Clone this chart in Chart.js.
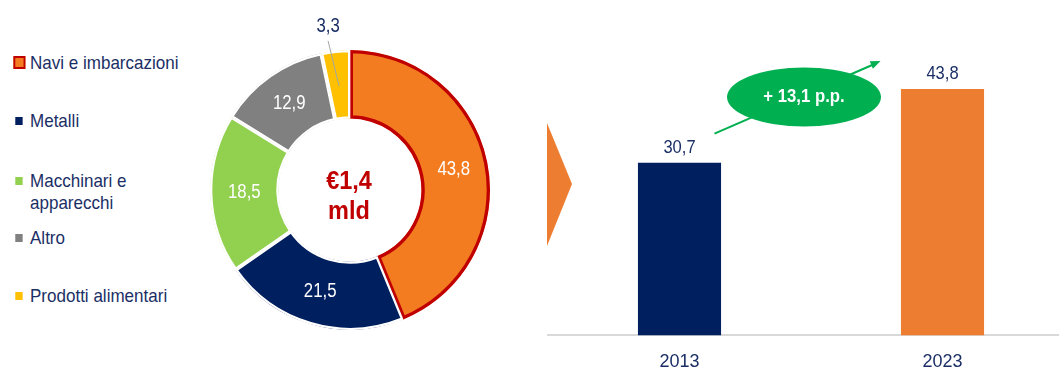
<!DOCTYPE html>
<html>
<head>
<meta charset="utf-8">
<script src="https://cdn.jsdelivr.net/npm/chart.js@4"></script>
<style>
  html, body { margin: 0; padding: 0; background: #fff; overflow: hidden; width: 1059px; height: 371px; }
  #legend { position: absolute; left: 0; top: 0; width: 210px; height: 371px; }
  .item { position: absolute; left: 30px; font: 18.5px 'Liberation Sans Narrow', 'Arial Narrow', Arial, sans-serif; color: #1b2f66; line-height: 22px; white-space: nowrap; transform: scaleX(0.92); transform-origin: 0 0; }
  .box { position: absolute; left: -16px; top: 7px; width: 8px; height: 8px; }
  #pie { position: absolute; left: 200px; top: 0; }
  #bars { position: absolute; left: 540px; top: 0; }
</style>
</head>
<body>
<div id="legend"></div>
<canvas id="pie" width="300" height="340"></canvas>
<canvas id="bars" width="540" height="389"></canvas>
<script>
const categories = ['Navi e imbarcazioni', 'Metalli', 'Macchinari e apparecchi', 'Altro', 'Prodotti alimentari'];
const shares = [43.8, 21.5, 18.5, 12.9, 3.3];
const sliceColors = ['#f47c20', '#001f5f', '#92d050', '#808080', '#ffc000'];
const centerText = ['€1,4', 'mld'];

const years = ['2013', '2023'];
const yearValues = [30.7, 43.8];
const yearColors = ['#001f5f', '#ed7d31'];
const changeText = '+ 13,1 p.p.';

const navy = '#1b2f66';
const narrow = "'Liberation Sans Narrow', 'Arial Narrow', Arial, sans-serif";
const fmt = v => v.toFixed(1).replace('.', ',');

// squeeze text a bit to look like the narrow face of the original
function squeezed(ctx, text, x, y, sx) {
    ctx.save();
    ctx.translate(x, y);
    ctx.scale(sx, 1);
    ctx.fillText(text, 0, 0);
    ctx.restore();
}

window.onload = () => {
    // legend
    const legend = document.getElementById('legend');
    const legendTops = [52, 110, 170, 227, 285];
    categories.forEach((c, i) => {
        const div = document.createElement('div');
        div.className = 'item';
        div.style.top = legendTops[i] + 'px';
        div.innerHTML = c === 'Macchinari e apparecchi' ? 'Macchinari e<br>apparecchi' : c;
        const box = document.createElement('span');
        box.className = 'box';
        box.style.background = sliceColors[i];
        if (i === 0) {
            box.style.left = '-18px';
            box.style.top = '4px';
            box.style.width = '9px';
            box.style.height = '9px';
            box.style.border = '2px solid #c00000';
        }
        div.appendChild(box);
        legend.appendChild(div);
    });

    const sliceLabels = {
        id: 'sliceLabels',
        afterDatasetsDraw(chart) {
            const ctx = chart.ctx;
            const arcs = chart.getDatasetMeta(0).data;
            ctx.save();
            ctx.font = '19.5px ' + narrow;
            ctx.textAlign = 'center';
            ctx.textBaseline = 'middle';
            arcs.forEach((arc, i) => {
                const p = arc.tooltipPosition();
                if (shares[i] < 5) {
                    ctx.strokeStyle = '#a6a6a6';
                    ctx.lineWidth = 1;
                    ctx.beginPath();
                    ctx.moveTo(p.x - 11, p.y - 44);
                    ctx.lineTo(p.x, p.y + 1);
                    ctx.stroke();
                    ctx.fillStyle = navy;
                    squeezed(ctx, fmt(shares[i]), p.x - 11, p.y - 58, 0.86);
                } else {
                    ctx.fillStyle = '#fff';
                    squeezed(ctx, fmt(shares[i]), p.x, p.y, 0.86);
                }
            });
            const cx = (chart.chartArea.left + chart.chartArea.right) / 2;
            const cy = (chart.chartArea.top + chart.chartArea.bottom) / 2;
            ctx.fillStyle = '#c00000';
            ctx.font = 'bold 25px ' + narrow;
            squeezed(ctx, centerText[0], cx - 1, cy - 8, 0.94);
            squeezed(ctx, centerText[1], cx - 1, cy + 22, 0.94);
            ctx.restore();
        }
    };

    new Chart(document.getElementById('pie').getContext('2d'), {
        type: 'doughnut',
        data: {
            labels: categories,
            datasets: [{
                data: shares,
                backgroundColor: sliceColors,
                borderColor: ['#c00000', '#fff', '#fff', '#fff', '#fff'],
                borderWidth: [3, 2, 2, 2, 2],
                borderAlign: 'inner'
            }]
        },
        options: {
            responsive: false,
            animation: false,
            cutout: '51%',
            layout: { padding: { left: 10, right: 10, top: 50, bottom: 10 } },
            plugins: { legend: { display: false }, tooltip: { enabled: false } }
        },
        plugins: [sliceLabels]
    });

    const barExtras = {
        id: 'barExtras',
        afterDatasetsDraw(chart) {
            const ctx = chart.ctx;
            const xs = chart.scales.x, ys = chart.scales.y;
            const area = chart.chartArea;
            ctx.save();
            // chevron
            ctx.fillStyle = '#ed7d31';
            ctx.beginPath();
            ctx.moveTo(area.left - 1, 123);
            ctx.lineTo(area.left + 24, 184);
            ctx.lineTo(area.left - 1, 246);
            ctx.closePath();
            ctx.fill();
            // value labels
            ctx.font = '19px ' + narrow;
            ctx.fillStyle = navy;
            ctx.textAlign = 'center';
            ctx.textBaseline = 'alphabetic';
            chart.getDatasetMeta(0).data.forEach((bar, i) => {
                squeezed(ctx, fmt(yearValues[i]), bar.x, bar.y - 10, 0.87);
            });
            // arrow
            const x1 = xs.getPixelForValue(0) + 35, y1 = ys.getPixelForValue(yearValues[0]) - 29;
            const x2 = xs.getPixelForValue(1) - 62, y2 = ys.getPixelForValue(yearValues[1]) - 28;
            ctx.strokeStyle = '#00b050';
            ctx.fillStyle = '#00b050';
            ctx.lineWidth = 2;
            ctx.beginPath();
            ctx.moveTo(x1, y1);
            ctx.lineTo(x2 - 6, y2 + 3);
            ctx.stroke();
            const a = Math.atan2(y2 - y1, x2 - x1);
            ctx.beginPath();
            ctx.moveTo(x2, y2);
            ctx.lineTo(x2 - 10 * Math.cos(a) + 4 * Math.sin(a), y2 - 10 * Math.sin(a) - 4 * Math.cos(a));
            ctx.lineTo(x2 - 10 * Math.cos(a) - 4 * Math.sin(a), y2 - 10 * Math.sin(a) + 4 * Math.cos(a));
            ctx.closePath();
            ctx.fill();
            // ellipse
            const ex = (xs.getPixelForValue(0) + xs.getPixelForValue(1)) / 2 - 7;
            const ey = ys.getPixelForValue(yearValues[1]) + 8;
            ctx.beginPath();
            ctx.ellipse(ex, ey, 77, 29.5, 0, 0, Math.PI * 2);
            ctx.fill();
            ctx.fillStyle = '#fff';
            ctx.font = 'bold 19px ' + narrow;
            ctx.textBaseline = 'middle';
            squeezed(ctx, changeText, ex, ey, 0.88);
            ctx.restore();
        }
    };

    new Chart(document.getElementById('bars').getContext('2d'), {
        type: 'bar',
        data: {
            labels: years,
            datasets: [{
                data: yearValues,
                backgroundColor: yearColors,
                barPercentage: 0.316,
                categoryPercentage: 1
            }]
        },
        options: {
            responsive: false,
            animation: false,
            layout: { padding: { left: 8, right: 6, top: 26, bottom: 0 } },
            scales: {
                x: {
                    grid: { display: false, drawTicks: false },
                    border: { display: true, color: '#d9d9d9', width: 2 },
                    ticks: { color: navy, font: { size: 18, family: narrow }, padding: 16 }
                },
                y: { display: false, min: 0, max: 55 }
            },
            plugins: { legend: { display: false }, tooltip: { enabled: false } }
        },
        plugins: [barExtras]
    });
};
</script>
</body>
</html>
